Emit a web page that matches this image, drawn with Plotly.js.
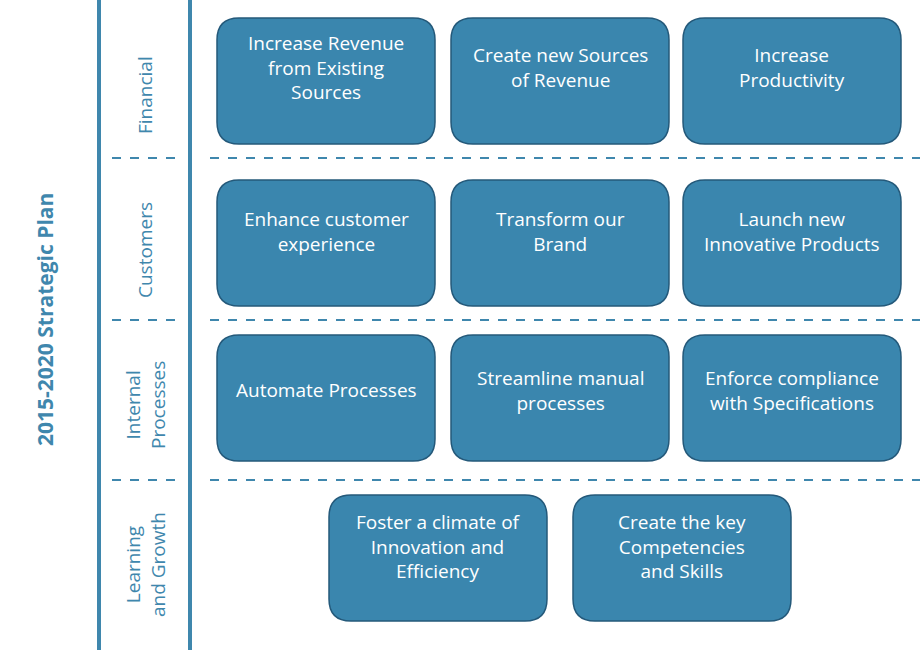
<!DOCTYPE html>
<html><head><meta charset="utf-8">
<script src="https://cdn.plot.ly/plotly-3.0.1.min.js"></script>
<style>body{margin:0;background:#fff}</style></head>
<body><div id="chart" style="width:920px;height:650px"></div>
<script>
const chartTitle = "2015-2020 Strategic Plan";
const perspectives = ["Financial", "Customers", "Internal<br>Processes", "Learning<br>and Growth"];
const row0Items = ["Increase Revenue<br>from Existing<br>Sources", "Create new Sources<br>of Revenue", "Increase<br>Productivity"];
const row1Items = ["Enhance customer<br>experience", "Transform our<br>Brand", "Launch new<br>Innovative Products"];
const row2Items = ["Automate Processes", "Streamline manual<br>processes", "Enforce compliance<br>with Specifications"];
const row3Items = ["Foster a climate of<br>Innovation and<br>Efficiency", "Create the key<br>Competencies<br>and Skills"];
const rows = [row0Items, row1Items, row2Items, row3Items];

const rowTop = [18, 180, 335, 495], boxH = 126, boxW = 218;
const colX3 = [217, 451, 683], colX2 = [329, 573];
const rowLabelY = [95, 250, 405, 565], textOffset = [-14, -12, -8, -12];
const dashY = [158, 320, 480];
const lineC = "#3f87ad", fillC = "#3a86ae", edgeC = "#24597a";

function rr(x0, y0, w, h, r) {
  const x1 = x0 + w, y1 = y0 + h;
  return `M${x0+r},${y0} L${x1-r},${y0} Q${x1},${y0} ${x1},${y0+r} L${x1},${y1-r} Q${x1},${y1} ${x1-r},${y1} L${x0+r},${y1} Q${x0},${y1} ${x0},${y1-r} L${x0},${y0+r} Q${x0},${y0} ${x0+r},${y0} Z`;
}
const shapes = [], ann = [];
shapes.push({type:"line", x0:99, x1:99, y0:0, y1:650, line:{color:lineC, width:4}});
shapes.push({type:"line", x0:190, x1:190, y0:0, y1:650, line:{color:lineC, width:4}});
dashY.forEach(y => {
  shapes.push({type:"line", x0:112, x1:178, y0:y, y1:y, line:{color:lineC, width:2, dash:"dash"}});
  shapes.push({type:"line", x0:210, x1:920, y0:y, y1:y, line:{color:lineC, width:2, dash:"dash"}});
});
rows.forEach((items, r) => {
  const xs = items.length === 3 ? colX3 : colX2;
  items.forEach((t, c) => {
    shapes.push({type:"path", path: rr(xs[c], rowTop[r], boxW, boxH, 22), fillcolor: fillC, line:{color:edgeC, width:1.5}});
    ann.push({x: xs[c] + boxW/2, y: rowTop[r] + boxH/2 + textOffset[r], text: t, showarrow:false, font:{color:"#fff", size:19, family:"Open Sans"}});
  });
  ann.push({x:145, y: rowLabelY[r], text: perspectives[r], textangle:-90, showarrow:false, font:{color:lineC, size:19, family:"Open Sans"}});
});
ann.push({x:45, y:320, text:"<b>"+chartTitle+"</b>", textangle:-90, showarrow:false, font:{color:lineC, size:21, family:"Open Sans"}});

Plotly.newPlot("chart", [], {
  width:920, height:650, margin:{l:0,r:0,t:0,b:0},
  paper_bgcolor:"#fff", plot_bgcolor:"#fff",
  xaxis:{range:[0,920], visible:false, fixedrange:true},
  yaxis:{range:[650,0], visible:false, fixedrange:true},
  shapes, annotations: ann, showlegend:false
}, {displayModeBar:false, staticPlot:true});
</script></body></html>
